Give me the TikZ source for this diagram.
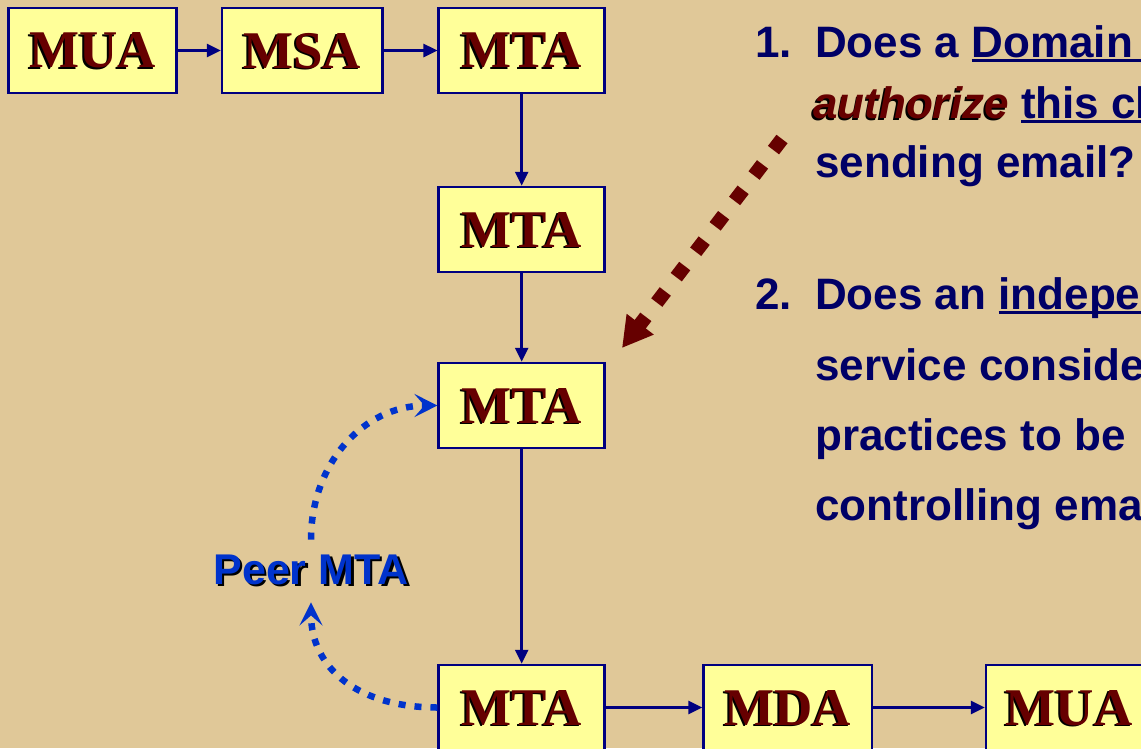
\documentclass[tikz,border=0pt]{standalone}
\usepackage{fontspec}
\usetikzlibrary{arrows.meta}
\newfontfamily\serfont{Liberation Serif}
\newfontfamily\sanfont{Liberation Sans}
\definecolor{bg}{HTML}{E0C898}
\definecolor{boxfill}{HTML}{FFFF99}
\definecolor{navy}{HTML}{000080}
\definecolor{txt}{HTML}{000066}
\definecolor{dred}{HTML}{660000}
\definecolor{pblue}{HTML}{0033CC}
\newcommand\shadowed[4]{\makebox[0pt][l]{\kern#1\raisebox{#2}{\color{black}#4}}{\color{#3}#4}}
\newsavebox\ulbox
\newcommand\myul[1]{\sbox\ulbox{#1}\rlap{\rule[-4.6pt]{\wd\ulbox}{3pt}}\usebox\ulbox}
\newcommand\lbl[1]{\shadowed{-2pt}{-1.5pt}{dred}{#1}}
\begin{document}
\begin{tikzpicture}[x=1pt,y=-1pt,
 blk/.style={draw=navy, line width=2.5pt, fill=boxfill, minimum height=85pt, inner sep=0pt,
   font=\serfont\bfseries\fontsize{53}{53}\selectfont, text depth=0pt},
 conn/.style={draw=navy, line width=2.7pt, -{Triangle[length=14pt,width=13pt]}},
 q/.style={anchor=base west, inner sep=0pt, font=\sanfont\bfseries\fontsize{44}{44}\selectfont, text=txt},
 peerarr/.style={draw=pblue, line width=6.5pt, dash pattern=on 7pt off 9pt,
   -{Stealth[length=23pt,width=23pt,inset=10pt]}},
 redarr/.style={draw=dred, line width=14pt, dash pattern=on 14pt off 18pt,
   -{Triangle[length=30pt,width=32pt]}}]
\path[use as bounding box] (0,0) rectangle (1141,748);
\clip (0,0) rectangle (1141,748);
\fill[bg] (0,0) rectangle (1141,748);

% boxes
\node[blk, minimum width=168pt] (mua1) at (92.5,50.5) {\lbl{MUA}};
\node[blk, minimum width=160.5pt] (msa) at (302.3,50.5) {\lbl{MSA}};
\node[blk, minimum width=166pt] (mta1) at (521.7,50.5) {\lbl{MTA}};
\node[blk, minimum width=166pt] (mta2) at (521.7,229.5) {\lbl{MTA}};
\node[blk, minimum width=166pt] (mta3) at (521.7,405.5) {\lbl{MTA}};
\node[blk, minimum width=166pt] (mta4) at (521.7,707.5) {\lbl{MTA}};
\node[blk, minimum width=168.5pt] (mda) at (787.8,707.5) {\lbl{MDA}};
\node[blk, minimum width=166pt] (mua2) at (1069,707.5) {\lbl{MUA}};

% connectors
\draw[conn] (mua1) -- (msa);
\draw[conn] (msa) -- (mta1);
\draw[conn] (mta1) -- (mta2);
\draw[conn] (mta2) -- (mta3);
\draw[conn] (mta3) -- (mta4);
\draw[conn] (mta4) -- (mda);
\draw[conn] (mda) -- (mua2);

% red dotted arrow
\coordinate (rs) at (782,139);
\coordinate (re) at (622,348);
\draw[redarr] (rs) -- (re);

% peer MTA
\node[inner xsep=0pt, inner ysep=15pt, font=\sanfont\bfseries\fontsize{43}{43}\selectfont] (peer) at (311,571)
  {\shadowed{2.5pt}{-2.5pt}{pblue}{Peer MTA}};
\draw[peerarr] (peer.north) .. controls +(0,-75) and +(-75,0) .. (mta3.west);
\draw[peerarr] (mta4.west) .. controls +(-78,0) and +(0,67) .. (peer.south);

% questions
\node[q] (n1) at (755,57) {1.};
\node[q] (l1) at (815,57) {Does a \myul{Domain Name}};
\node[q] (l2) at (813,118) {\shadowed{-1.5pt}{-2.5pt}{dred}{\itshape authorize} \myul{this client}};
\node[q] (l3) at (815,177) {sending email?};
\node[q] (n2) at (755,309) {2.};
\node[q] (l4) at (815,309) {Does an \myul{independent}};
\node[q] (l5) at (815,380) {service considers};
\node[q] (l6) at (815,450) {practices to be};
\node[q] (l7) at (815,520) {controlling email};
\end{tikzpicture}
\end{document}
